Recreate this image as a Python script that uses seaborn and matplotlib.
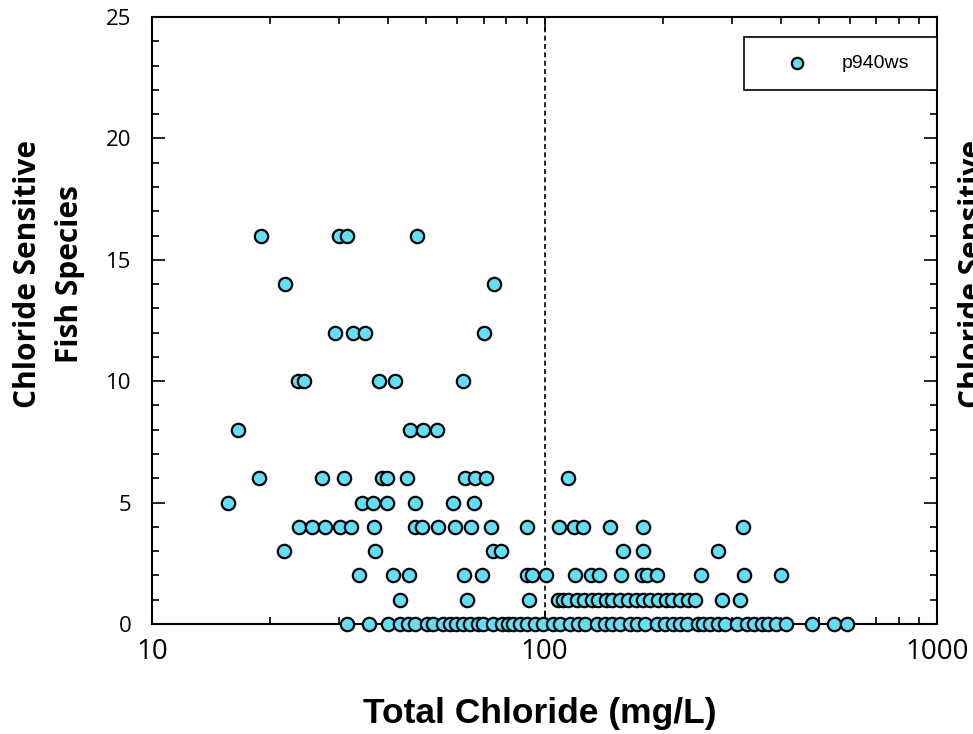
import matplotlib
matplotlib.use("Agg")
import matplotlib.pyplot as plt
import numpy as np
import pandas as pd
import seaborn as sns
from matplotlib.ticker import MultipleLocator, LogLocator, FuncFormatter, NullFormatter
from matplotlib.font_manager import FontProperties

# Total chloride (mg/L) at each count of chloride-sensitive fish species
chloride_16 = [19.0, 30.0, 31.4, 47.3]
chloride_14 = [21.8, 74.3]
chloride_12 = [29.3, 32.5, 34.9, 70.1]
chloride_10 = [23.6, 24.4, 37.9, 41.6, 62.0]
chloride_8 = [16.6, 45.4, 49.0, 53.2]
chloride_6 = [18.7, 27.1, 30.8, 38.5, 39.7, 44.6, 62.7, 66.5, 70.9, 114.8]
chloride_5 = [15.6, 34.3, 36.6, 39.7, 46.8, 58.5, 66.1]
chloride_4 = [23.7, 25.6, 27.6, 30.1, 32.1, 36.8, 46.8, 48.7, 53.5, 59.2, 65.0,
              73.1, 90.2, 108.9, 118.9, 125.3, 146.9, 178.2, 320.4]
chloride_3 = [21.7, 37.0, 73.9, 77.5, 158.5, 178.2, 276.7]
chloride_2 = [33.7, 41.1, 45.2, 62.4, 69.3, 90.2, 92.9, 100.9, 119.6, 131.4, 137.7,
              156.6, 177.2, 182.4, 193.5, 250.4, 322.3, 400.5]
chloride_1 = [42.8, 63.5, 91.3, 108.2, 111.5, 114.8, 121.0, 126.1, 132.1, 136.9,
              143.4, 148.6, 155.7, 163.2, 171.1, 178.2, 185.7, 194.6, 204.0, 211.3,
              221.4, 232.1, 241.8, 283.3, 314.8]
chloride_0 = [31.4, 35.7, 39.9, 42.8, 44.9, 46.8, 50.2, 52.0, 55.1, 57.4, 59.5, 62.0,
              64.6, 67.7, 69.7, 73.9, 77.9, 80.7, 83.1, 86.6, 90.2, 94.6, 99.1, 105.1,
              109.5, 116.1, 121.7, 126.8, 136.1, 142.6, 148.6, 155.7, 165.1, 172.1,
              180.3, 193.5, 202.8, 212.5, 221.4, 230.7, 246.1, 253.4, 264.1, 276.7,
              288.4, 309.3, 328.1, 341.9, 358.3, 371.1, 388.9, 412.5, 480.3, 546.5,
              589.8]

species_counts = [16, 14, 12, 10, 8, 6, 5, 4, 3, 2, 1, 0]
chloride_groups = [chloride_16, chloride_14, chloride_12, chloride_10, chloride_8,
                   chloride_6, chloride_5, chloride_4, chloride_3, chloride_2,
                   chloride_1, chloride_0]
series_name = "p940ws"
x_label = "Total Chloride (mg/L)"
y_label = "Chloride Sensitive\nFish Species"

df = pd.DataFrame({
    "chloride": [c for grp in chloride_groups for c in grp],
    "species": [n for n, grp in zip(species_counts, chloride_groups) for _ in grp],
})

sns.set_theme(style="ticks")
plt.rcParams["font.family"] = ["Liberation Sans", "DejaVu Sans"]
for key in ["text.color", "axes.labelcolor", "xtick.color", "ytick.color",
            "axes.edgecolor"]:
    plt.rcParams[key] = "black"

W, H = 973, 734
fig = plt.figure(figsize=(W / 100, H / 100), dpi=100)
ax = fig.add_axes([152 / W, 1 - 624 / H, 785 / W, 607 / H])

ax.axvline(100, color="black", lw=1.2, ls=(0, (3, 2)), zorder=1)

sns.scatterplot(data=df, x="chloride", y="species", ax=ax, s=92,
                color="#5fe0f8", edgecolor="black", linewidth=1.6,
                label=series_name, clip_on=False, zorder=3)

ax.set_xscale("log")
ax.set_xlim(10, 1000)
ax.set_ylim(0, 25)
ax.xaxis.set_major_locator(LogLocator(base=10, numticks=10))
ax.xaxis.set_minor_locator(LogLocator(base=10, subs=np.arange(2, 10), numticks=10))
ax.xaxis.set_major_formatter(FuncFormatter(lambda v, p: f"{v:g}"))
ax.xaxis.set_minor_formatter(NullFormatter())
ax.yaxis.set_major_locator(MultipleLocator(5))
ax.yaxis.set_minor_locator(MultipleLocator(1))

for side in ["left", "right", "top", "bottom"]:
    ax.spines[side].set_visible(True)
    ax.spines[side].set_linewidth(1.5)
    ax.spines[side].set_color("black")

ax.tick_params(which="both", direction="in", top=True, right=True,
               color="black", width=1.2, labelcolor="black")
ax.tick_params(which="major", length=9.5)
ax.tick_params(which="minor", length=5)
ax.tick_params(axis="y", which="major", pad=15)
ax.tick_params(axis="x", which="major", pad=10)
for lab in ax.get_yticklabels():
    lab.set_fontfamily("Open Sans")
    lab.set_fontsize(16)
for lab in ax.get_xticklabels():
    lab.set_fontfamily("Open Sans")
    lab.set_fontsize(20)

ax.set_xlabel("")
ax.set_ylabel("")
fig.text(540 / W, 1 - 714 / H, x_label, ha="center", va="center", color="black",
         fontfamily="Liberation Sans", fontweight="bold", fontsize=25.5)
label_kw = dict(rotation=90, ha="center", va="center", multialignment="center",
                fontfamily="Open Sans", fontweight="bold", fontsize=21.5,
                linespacing=1.5, color="black")
fig.text(49 / W, 1 - 274 / H, y_label, **label_kw)
fig.text(994 / W, 1 - 274 / H, y_label, **label_kw)

leg = ax.legend(loc="upper right", bbox_to_anchor=(592 / 785, 0, 193 / 785, 1 - 20 / 607),
                mode="expand", borderaxespad=0, frameon=True, fancybox=False,
                framealpha=1, edgecolor="black", borderpad=0.9, handlelength=3.7,
                handletextpad=0.4, markerscale=0.85,
                prop=FontProperties(family="Liberation Sans", size=14))
leg.get_frame().set_linewidth(1.2)
for t in leg.get_texts():
    t.set_color("black")

fig.savefig("out.png", dpi=100)
